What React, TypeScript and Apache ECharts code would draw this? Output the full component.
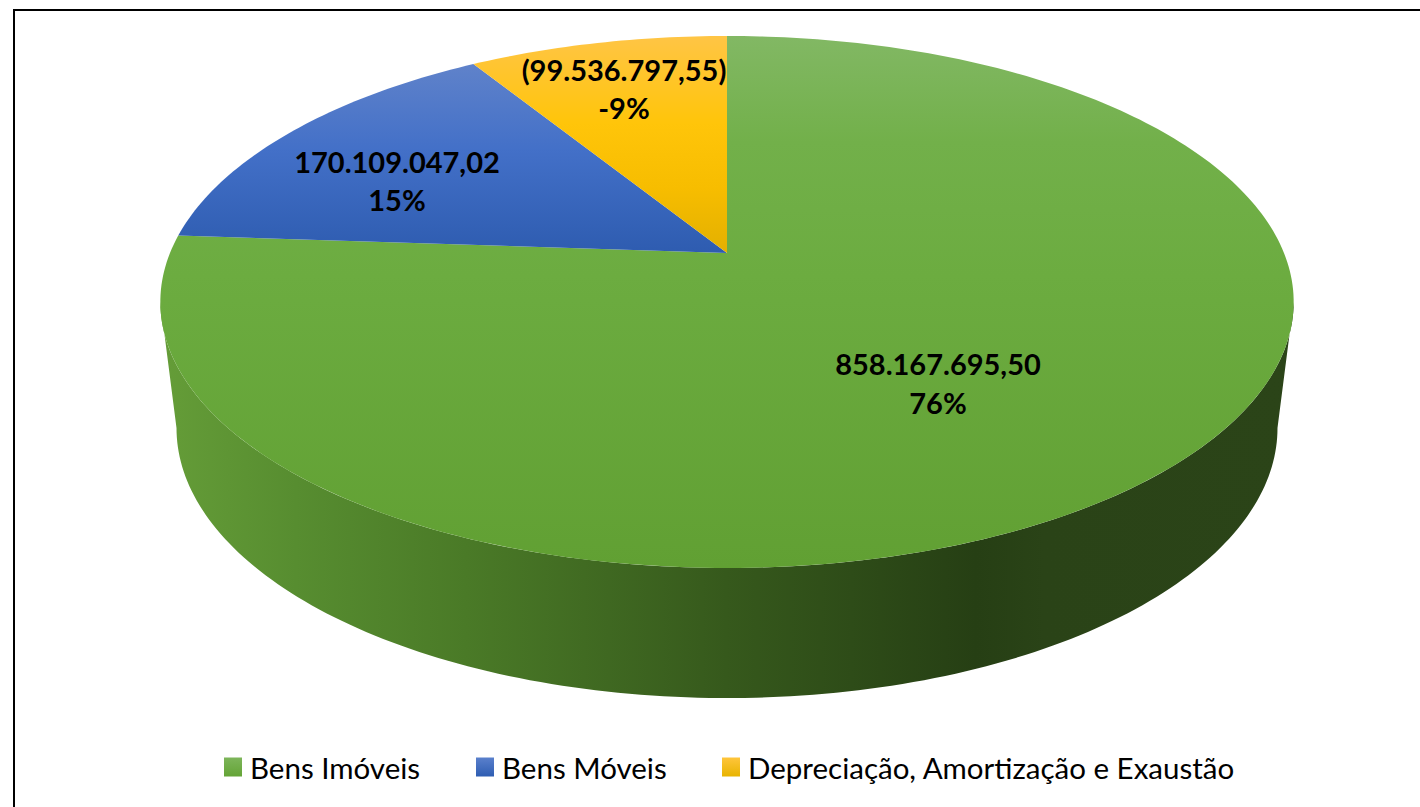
import React, { useEffect, useRef } from "react";
import * as echarts from "echarts";

const categories = ["Bens Imóveis", "Bens Móveis", "Depreciação, Amortização e Exaustão"];
const values = [858167695.5, 170109047.02, 99536797.55];
const valueLabels = ["858.167.695,50", "170.109.047,02", "(99.536.797,55)"];
const percentLabels = ["76%", "15%", "-9%"];

// Projective view of the pie's top and bottom discs
const TOP = { x0: 727, y0: 253, a: 257, b: 557, k: 0.184 };
const BOTTOM = { x0: 727, y0: 378.3, a: 260.9, b: 541.1, k: 0.184 };
const labelCentres = [
  [938, 363.5],
  [397, 161],
  [624, 69],
];
const LINE_GAP = 38.5;
const FONT = "Lato, Carlito, Calibri, sans-serif";

const project = (d: typeof TOP, t: number): number[] => {
  const den = 1 + d.k * Math.cos(t);
  return [d.x0 + (d.b * Math.sin(t)) / den, d.y0 - (d.a * Math.cos(t)) / den];
};

const grad = (y0: number, y1: number, stops: [number, string][]) =>
  new echarts.graphic.LinearGradient(
    0,
    y0,
    0,
    y1,
    stops.map(([offset, color]) => ({ offset, color })),
    true
  );

const topFills = [
  grad(36, 568, [
    [0, "#82b864"],
    [0.2, "#72b04a"],
    [0.45, "#6cac40"],
    [1, "#61a033"],
  ]),
  grad(65, 253, [
    [0, "#5f82ca"],
    [0.45, "#4370c8"],
    [1, "#2e5cb0"],
  ]),
  grad(36, 253, [
    [0, "#ffc545"],
    [0.4, "#ffc50a"],
    [0.7, "#f7bd00"],
    [1, "#e3b000"],
  ]),
];

const sideFill = new echarts.graphic.LinearGradient(
  160,
  0,
  1293,
  0,
  [
    { offset: 0, color: "#659d38" },
    { offset: 0.12, color: "#578d30" },
    { offset: 0.27, color: "#4a7a27" },
    { offset: 0.5, color: "#36591c" },
    { offset: 0.72, color: "#263f14" },
    { offset: 0.78, color: "#2a4317" },
    { offset: 1, color: "#2b4418" },
  ],
  true
);

const legendFills = [
  ["#7db55a", "#64a436"],
  ["#5a80cc", "#2e5db2"],
  ["#ffc53c", "#e8b400"],
].map(
  ([a, b]) =>
    new echarts.graphic.LinearGradient(0, 0, 0, 1, [
      { offset: 0, color: a },
      { offset: 1, color: b },
    ])
);
const legendLefts = [224, 476, 722];

const total = values.reduce((s, v) => s + v, 0);
const TAU = Math.PI * 2;
const arcPoints = (d: typeof TOP, t0: number, t1: number): number[][] => {
  const n = Math.max(2, Math.ceil(((t1 - t0) / TAU) * 360));
  const pts: number[][] = [];
  for (let i = 0; i <= n; i++) pts.push(project(d, t0 + ((t1 - t0) * i) / n));
  return pts;
};

const sliceRange = (i: number): [number, number] => {
  const before = values.slice(0, i).reduce((s, v) => s + v, 0);
  return [(before / total) * TAU, ((before + values[i]) / total) * TAU];
};

const renderSlice = (i: number) => (_params: any, api: any) => {
  const [t0, t1] = sliceRange(i);
  const children: any[] = [];
  // The side wall: only the part of the rim that faces the viewer
  const rimFrom = Math.PI - Math.acos(TOP.k);
  const rimTo = Math.PI + Math.acos(TOP.k);
  const s0 = Math.max(t0, rimFrom);
  const s1 = Math.min(t1, rimTo);
  if (s1 > s0) {
    const upper = arcPoints(TOP, s0, s1);
    const lower = arcPoints(BOTTOM, s0, s1).reverse();
    children.push({
      type: "polygon",
      shape: { points: upper.concat(lower) },
      style: { fill: sideFill, stroke: "none" },
    });
  }
  children.push({
    type: "polygon",
    shape: { points: [[TOP.x0, TOP.y0], ...arcPoints(TOP, t0, t1)] },
    style: { fill: topFills[i], stroke: "none" },
  });
  const [cx, cy] = labelCentres[i];
  [valueLabels[i], percentLabels[i]].forEach((text, j) => {
    children.push({
      type: "text",
      z2: 10,
      style: {
        text,
        x: cx,
        y: cy + j * LINE_GAP,
        align: "center",
        verticalAlign: "middle",
        font: `bold 29px ${FONT}`,
        fill: "#000000",
      },
    });
  });
  api.value(0);
  return { type: "group", children };
};

export default function App() {
  const ref = useRef<HTMLDivElement>(null);
  useEffect(() => {
    document.body.style.margin = "0";
    const chart = echarts.init(ref.current!, undefined, { renderer: "svg" });
    chart.setOption({
      animation: false,
      backgroundColor: "#ffffff",
      legend: categories.map((name, i) => ({
        data: [{ name, icon: "rect", itemStyle: { color: legendFills[i] } }],
        left: legendLefts[i],
        top: 752,
        padding: 0,
        itemWidth: 18,
        itemHeight: 19,
        selectedMode: false,
        textStyle: { fontFamily: FONT, fontSize: 29.5, color: "#000000", padding: [0, 0, 0, 3] },
      })),
      graphic: [
        { type: "line", shape: { x1: 14, y1: 10, x2: 1420, y2: 10 }, style: { stroke: "#000", lineWidth: 2 } },
        { type: "line", shape: { x1: 14, y1: 9, x2: 14, y2: 807 }, style: { stroke: "#000", lineWidth: 2 } },
      ],
      series: categories.map((name, i) => ({
        type: "custom",
        name,
        coordinateSystem: "none",
        renderItem: renderSlice(i),
        data: [[values[i]]],
        silent: true,
      })),
    });
    return () => chart.dispose();
  }, []);
  return <div ref={ref} style={{ position: "absolute", left: 0, top: 0, width: 1420, height: 807 }} />;
}
